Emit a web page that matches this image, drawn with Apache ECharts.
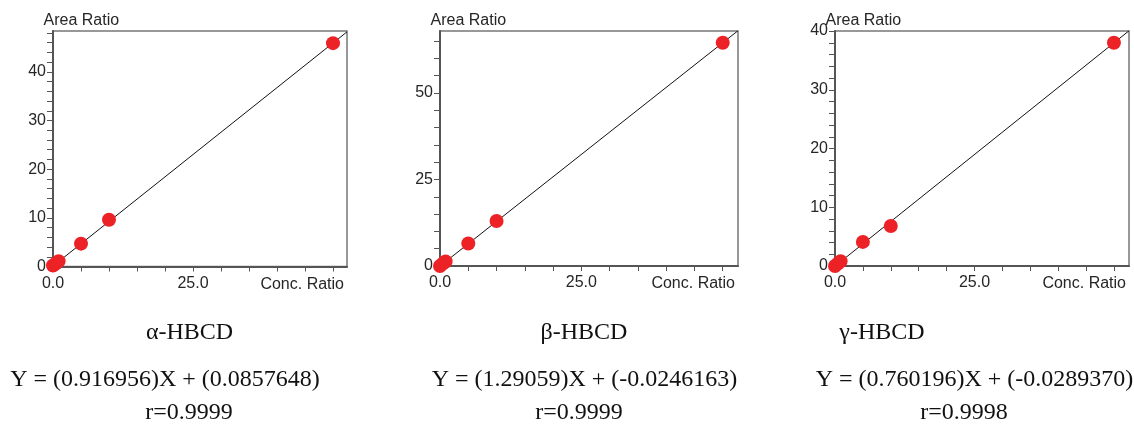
<!DOCTYPE html>
<html>
<head>
<meta charset="utf-8">
<script src="https://cdn.jsdelivr.net/npm/echarts@6/dist/echarts.min.js"></script>
<style>
  html, body { margin: 0; padding: 0; background: #fff; }
  #chart { width: 1134px; height: 429px; }
</style>
</head>
<body>
<div id="chart"></div>
<script>
  // calibration data
  var concRatio = [0, 0.5, 1, 5, 10, 50]
  var areaAlpha = [0.2, 0.6, 1.1, 4.7, 9.6, 45.9]
  var areaBeta = [0, 0.7, 1.3, 6.5, 13.0, 64.5]
  var areaGamma = [0, 0.4, 0.8, 4.1, 6.8, 38.0]

  // fit coefficients printed under each plot
  var slopes = [0.916956, 1.29059, 0.760196]
  var intercepts = [0.0857648, -0.0246163, -0.0289370]
  var rValues = ['0.9999', '0.9999', '0.9998']
  var isomers = ['α-HBCD', 'β-HBCD', 'γ-HBCD']

  // axis ticks
  var xTicks = [0, 5, 10, 15, 20, 25, 30, 35, 40, 45, 50]
  var xLabels = [0, 25]
  var yTicksAlpha = [0, 2, 4, 6, 8, 10, 12, 14, 16, 18, 20, 22, 24, 26, 28, 30, 32, 34, 36, 38, 40, 42, 44, 46, 48]
  var yLabelsAlpha = [0, 10, 20, 30, 40]
  var yTicksBeta = [0, 5, 10, 15, 20, 25, 30, 35, 40, 45, 50, 55, 60, 65]
  var yLabelsBeta = [0, 25, 50]
  var yTicksGamma = [0, 2, 4, 6, 8, 10, 12, 14, 16, 18, 20, 22, 24, 26, 28, 30, 32, 34, 36, 38, 40]
  var yLabelsGamma = [0, 10, 20, 30, 40]

  var areas = [areaAlpha, areaBeta, areaGamma]
  var yTicks = [yTicksAlpha, yTicksBeta, yTicksGamma]
  var yLabels = [yLabelsAlpha, yLabelsBeta, yLabelsGamma]

  // layout
  var grids = [
    { left: 53, top: 31, width: 294, height: 235.5 },
    { left: 440, top: 31, width: 298, height: 235 },
    { left: 835, top: 31, width: 294, height: 235 }
  ]
  var xMax = [52.5, 52.7, 52.7]
  var yMax = [48.4, 67.9, 40]
  var textPos = [
    { name: 189.5, eq: 165, r: 189 },
    { name: 584, eq: 584.5, r: 579 },
    { name: 882, eq: 974.5, r: 964 }
  ]

  var sansFont = 'Liberation Sans, Arial, sans-serif'
  var serifFont = 'Liberation Serif, Times New Roman, serif'
  var axisColor = '#555'
  var labelColor = '#262626'

  var chart = echarts.init(document.getElementById('chart'), null, { renderer: 'canvas' })

  var xAxes = []
  var yAxes = []
  var series = []
  var graphic = []

  for (var i = 0; i < 3; i++) {
    xAxes.push({
      type: 'value',
      gridIndex: i,
      min: 0,
      max: xMax[i],
      name: 'Conc. Ratio',
      nameLocation: 'end',
      nameGap: -3,
      nameTextStyle: {
        fontFamily: sansFont, fontSize: 16, color: labelColor,
        align: 'right', verticalAlign: 'top', padding: [10, 0, 0, 0]
      },
      splitLine: { show: false },
      axisLine: { show: true, lineStyle: { color: axisColor, width: 2 } },
      axisTick: {
        show: true, length: 5, customValues: xTicks,
        lineStyle: { color: axisColor, width: 1 }
      },
      axisLabel: {
        customValues: xLabels,
        margin: 9,
        fontFamily: sansFont, fontSize: 16, color: labelColor,
        formatter: function (v) { return v.toFixed(1) }
      }
    })
    yAxes.push({
      type: 'value',
      gridIndex: i,
      min: 0,
      max: yMax[i],
      splitLine: { show: false },
      axisLine: { show: true, lineStyle: { color: axisColor, width: 2 } },
      axisTick: {
        show: true, length: 6, customValues: yTicks[i],
        lineStyle: { color: axisColor, width: 1 }
      },
      axisLabel: {
        customValues: yLabels[i],
        margin: 7,
        fontFamily: sansFont, fontSize: 16, color: labelColor
      }
    })

    // regression line across the plot
    series.push({
      type: 'line',
      xAxisIndex: i,
      yAxisIndex: i,
      data: [[0, intercepts[i]], [xMax[i], slopes[i] * xMax[i] + intercepts[i]]],
      symbol: 'none',
      clip: true,
      silent: true,
      lineStyle: { color: '#111', width: 1 },
      z: 2
    })
    series.push({
      type: 'scatter',
      xAxisIndex: i,
      yAxisIndex: i,
      data: concRatio.map(function (x, k) { return [x, areas[i][k]] }),
      symbol: 'circle',
      symbolSize: 14,
      clip: false,
      itemStyle: { color: '#ec2227', opacity: 1 },
      z: 3
    })

    var g = grids[i]
    graphic.push({
      type: 'text', x: g.left - 9.5, y: 20.5,
      style: {
        text: 'Area Ratio', font: '16px ' + sansFont, fill: labelColor,
        align: 'left', verticalAlign: 'middle', textAlign: 'left', textVerticalAlign: 'middle'
      }
    })
    var serifStyle = function (txt) {
      return {
        text: txt, font: '24px ' + serifFont, fill: '#111',
        align: 'center', verticalAlign: 'middle', textAlign: 'center', textVerticalAlign: 'middle'
      }
    }
    graphic.push({ type: 'text', x: textPos[i].name, y: 333, style: serifStyle(isomers[i]) })
    graphic.push({
      type: 'text', x: textPos[i].eq, y: 380,
      style: serifStyle('Y = (' + slopes[i] + ')X + (' + intercepts[i].toFixed(7) + ')')
    })
    graphic.push({ type: 'text', x: textPos[i].r, y: 413, style: serifStyle('r=' + rValues[i]) })
  }

  chart.setOption({
    animation: false,
    backgroundColor: '#fff',
    grid: grids.map(function (g) {
      return Object.assign({ show: true, borderColor: '#777', borderWidth: 1.5, backgroundColor: 'transparent' }, g)
    }),
    xAxis: xAxes,
    yAxis: yAxes,
    series: series,
    graphic: graphic
  })
</script>
</body>
</html>
